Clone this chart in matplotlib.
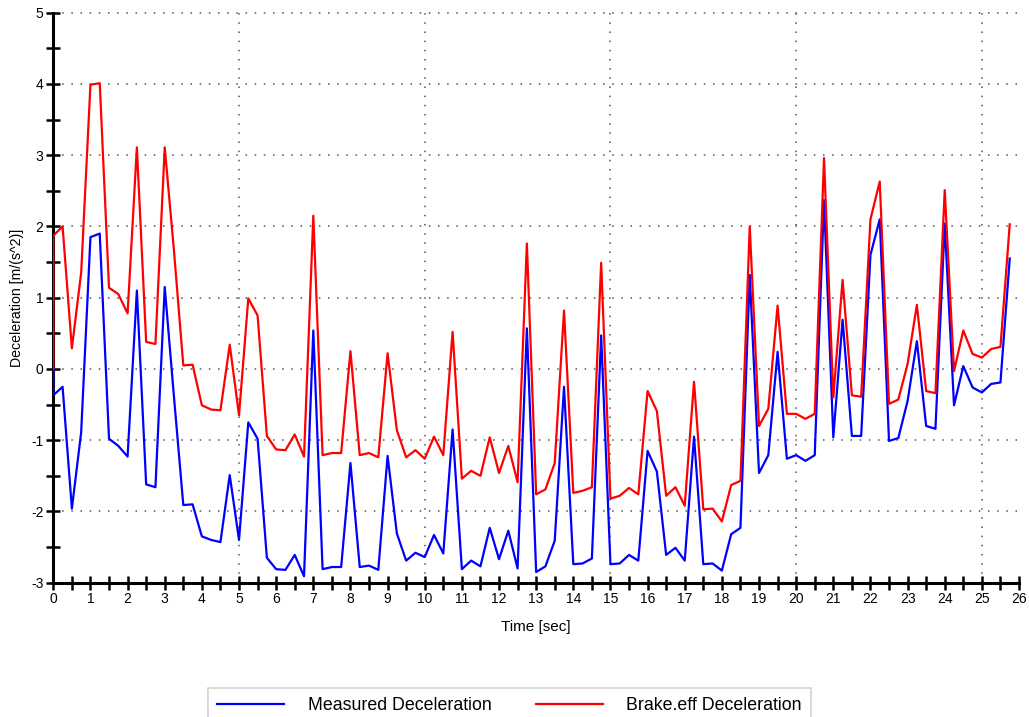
import numpy as np
import matplotlib
matplotlib.use("Agg")
import matplotlib.pyplot as plt
from matplotlib.ticker import MultipleLocator, FuncFormatter

plt.rcParams["font.family"] = ["Liberation Sans", "DejaVu Sans"]

# --- Messdaten (Abtastung alle 0.25 s) ---
dt = 0.25
measured = [
    -0.37, -0.25, -1.96, -0.89, 1.85, 1.90, -0.98, -1.08, -1.23, 1.10,
    -1.62, -1.66, 1.15, -0.40, -1.91, -1.90, -2.35, -2.40, -2.43, -1.49,
    -2.40, -0.75, -0.98, -2.65, -2.81, -2.82, -2.61, -2.91, 0.54, -2.81,
    -2.78, -2.78, -1.32, -2.78, -2.76, -2.82, -1.22, -2.31, -2.69, -2.58,
    -2.64, -2.33, -2.59, -0.85, -2.81, -2.69, -2.77, -2.23, -2.67, -2.27,
    -2.80, 0.57, -2.85, -2.77, -2.41, -0.25, -2.74, -2.73, -2.66, 0.47,
    -2.74, -2.73, -2.61, -2.69, -1.15, -1.44, -2.61, -2.51, -2.69, -0.95,
    -2.74, -2.73, -2.83, -2.32, -2.23, 1.32, -1.46, -1.21, 0.24, -1.26,
    -1.21, -1.29, -1.21, 2.37, -0.96, 0.69, -0.94, -0.94, 1.60, 2.10,
    -1.01, -0.97, -0.45, 0.39, -0.80, -0.84, 2.04, -0.51, 0.04, -0.26,
    -0.33, -0.21, -0.19, 1.55,
]
brake_eff = [
    1.87, 2.00, 0.29, 1.35, 3.99, 4.01, 1.14, 1.05, 0.78, 3.11,
    0.38, 0.35, 3.11, 1.65, 0.05, 0.06, -0.51, -0.57, -0.58, 0.34,
    -0.65, 0.99, 0.75, -0.94, -1.13, -1.14, -0.92, -1.23, 2.15, -1.21,
    -1.18, -1.18, 0.25, -1.21, -1.18, -1.24, 0.22, -0.86, -1.24, -1.14,
    -1.26, -0.95, -1.21, 0.52, -1.54, -1.43, -1.50, -0.96, -1.46, -1.08,
    -1.59, 1.76, -1.76, -1.69, -1.32, 0.82, -1.74, -1.71, -1.66, 1.49,
    -1.82, -1.78, -1.67, -1.76, -0.31, -0.59, -1.78, -1.66, -1.92, -0.18,
    -1.97, -1.96, -2.14, -1.63, -1.57, 2.00, -0.80, -0.56, 0.89, -0.63,
    -0.63, -0.70, -0.63, 2.96, -0.40, 1.25, -0.37, -0.39, 2.10, 2.63,
    -0.49, -0.43, 0.07, 0.90, -0.31, -0.34, 2.51, -0.03, 0.54, 0.21,
    0.16, 0.28, 0.31, 2.03,
]

# Beide Signale starten bei t=0 mit dem Wert 0
zeit = np.concatenate([[0.0], np.arange(len(measured)) * dt])
measured = np.concatenate([[0.0], measured])
brake_eff = np.concatenate([[0.0], brake_eff])

x_grid = [5, 10, 15, 20, 25]
y_grid = [-2, -1, 0, 1, 2, 3, 4, 5]

fig = plt.figure(figsize=(10.29, 7.17), dpi=100)
ax = fig.add_axes([0.0518, 0.1873, 0.9385, 0.795])

# gepunktetes Gitter
for y in y_grid:
    ax.axhline(y, color="#555555", linestyle=(0, (1, 5)), linewidth=1.1, zorder=1, clip_on=False)
for x in x_grid:
    ax.axvline(x, color="#555555", linestyle=(0, (1, 5)), linewidth=1.1, zorder=1)

ax.plot(zeit, measured, color="#0000ff", linewidth=1.6, label="Measured Deceleration", zorder=3)
ax.plot(zeit, brake_eff, color="#ff0000", linewidth=1.6, label="Brake.eff Deceleration", zorder=3)

ax.set_xlim(0, 26)
ax.set_ylim(-3, 5)

ax.spines["top"].set_visible(False)
ax.spines["right"].set_visible(False)
ax.spines["left"].set_linewidth(2.2)
ax.spines["bottom"].set_linewidth(2.2)

ax.xaxis.set_major_locator(MultipleLocator(0.5))
ax.yaxis.set_major_locator(MultipleLocator(0.5))
nur_ganze = FuncFormatter(lambda v, p: f"{v:.0f}" if abs(v - round(v)) < 1e-6 else "")
ax.xaxis.set_major_formatter(nur_ganze)
ax.yaxis.set_major_formatter(nur_ganze)
ax.tick_params(direction="inout", length=10, width=1.8, labelsize=10, pad=2)

ax.set_xlabel("Time [sec]", fontsize=11, labelpad=10)
ax.set_ylabel("Deceleration [m/(s^2)]", fontsize=10.2, labelpad=5)

leg = fig.legend(
    loc="upper center",
    bbox_to_anchor=(0.4951, 0.0404),
    ncol=2,
    fontsize=12.8,
    handlelength=3.8,
    handletextpad=1.3,
    columnspacing=2.5,
    fancybox=False,
    framealpha=1,
    edgecolor="#d4d4d4",
    borderpad=0.5,
    borderaxespad=0,
)
leg.get_frame().set_linewidth(1.2)

fig.savefig("out.png", dpi=100)
